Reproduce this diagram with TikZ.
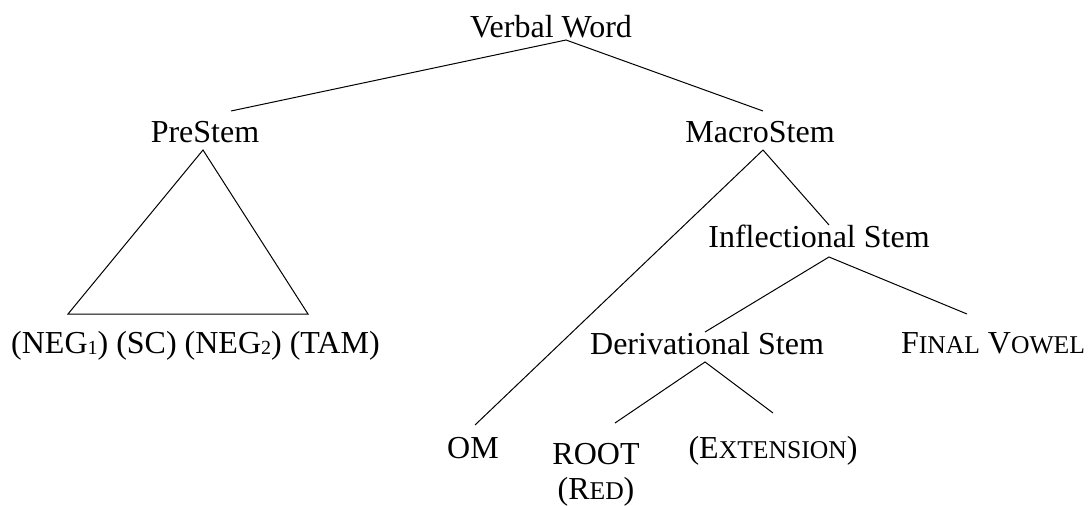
\documentclass[tikz,border=0pt]{standalone}
\usepackage{fontspec}
\setmainfont{Liberation Serif}
\newcommand{\fsc}[1]{{\fontsize{25.6}{25.6}\selectfont #1}}
\newcommand{\sbn}[1]{\raisebox{-1.5pt}{\fontsize{20}{20}\selectfont #1}}
\begin{document}
\begin{tikzpicture}[x=1pt,y=-1pt,
  lbl/.style={inner sep=0pt,anchor=base,font=\fontsize{32}{36}\selectfont},
  edge/.style={line width=1pt,line join=miter}]
\useasboundingbox (0,0) rectangle (1090,506);
% nodes
\node[lbl] (vw) at (551,37) {Verbal Word};
\node[lbl] (pre) at (205,142) {PreStem};
\node[lbl] (macro) at (760,142) {MacroStem};
\node[lbl,anchor=base west] (neg) at (11,353) {(NEG\sbn{1}) (SC) (NEG\sbn{2}) (TAM)};
\node[lbl] (infl) at (819,247) {Inflectional Stem};
\node[lbl] (deriv) at (707,354) {Derivational Stem};
\node[lbl] (fv) at (993,353) {F\fsc{INAL} V\fsc{OWEL}};
\node[lbl] (om) at (473,458) {OM};
\node[lbl] (root) at (596,464) {ROOT};
\node[lbl] (red) at (596,499) {(R\fsc{ED})};
\node[lbl] (ext) at (773,458) {(E\fsc{XTENSION})};
% connector end points
\coordinate (vw-b) at (566,40);
\coordinate (pre-t) at (231,111);
\coordinate (macro-t) at (763,111);
\coordinate (pre-b) at (203,150);
\coordinate (neg-l) at (68,314);
\coordinate (neg-r) at (308,314);
\coordinate (macro-b) at (763,150);
\coordinate (om-t) at (475,425);
\coordinate (infl-t) at (829,225);
\coordinate (infl-b) at (829,257);
\coordinate (deriv-t) at (705,332);
\coordinate (fv-t) at (967,314);
\coordinate (deriv-b) at (705,362);
\coordinate (root-t) at (615,423);
\coordinate (ext-t) at (773,413);
% connectors
\draw[edge] (pre-t) -- (vw-b) -- (macro-t);
\draw[edge] (neg-l) -- (pre-b) -- (neg-r) -- cycle;
\draw[edge] (om-t) -- (macro-b) -- (infl-t);
\draw[edge] (deriv-t) -- (infl-b) -- (fv-t);
\draw[edge] (root-t) -- (deriv-b) -- (ext-t);
\end{tikzpicture}
\end{document}
